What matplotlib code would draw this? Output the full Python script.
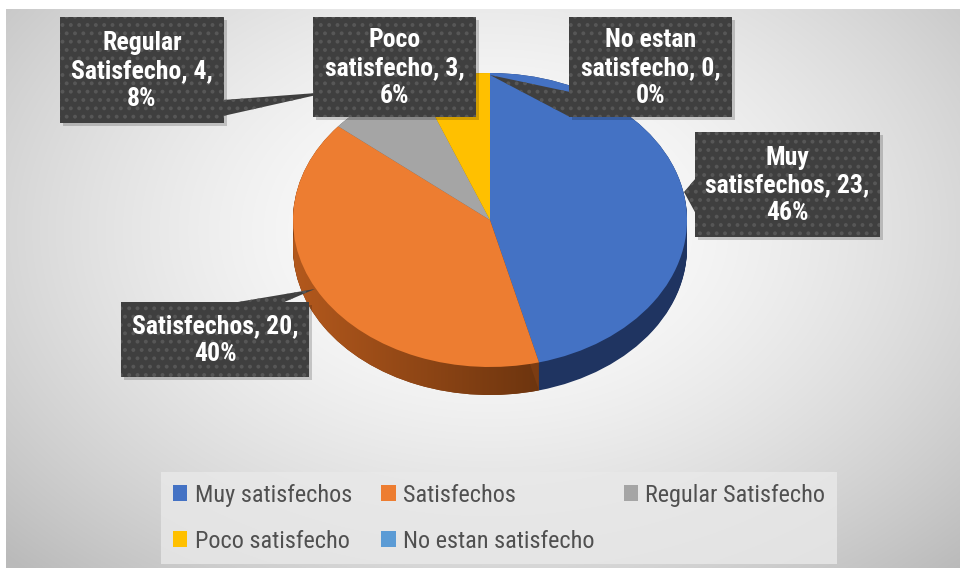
import numpy as np
import matplotlib
matplotlib.use("Agg")
import matplotlib.pyplot as plt
from matplotlib.patches import Rectangle, Polygon, Patch
from matplotlib.colors import to_rgb

# ---- data ----
categories = ["Muy satisfechos", "Satisfechos", "Regular Satisfecho",
              "Poco satisfecho", "No estan satisfecho"]
label_names = ["Muy\nsatisfechos", "Satisfechos", "Regular\nSatisfecho",
               "Poco\nsatisfecho", "No estan\nsatisfecho"]
values = [23, 20, 4, 3, 0]
top_colors = ["#4472c4", "#ed7d31", "#a5a5a5", "#ffc000", "#5b9bd5"]
side_colors = ["#1f3461", "#7c3c12", "#666666", "#9c7500", "#35608a"]

total = sum(values)
percents = [round(100 * v / total) for v in values]
labels = [f"{n}, {v},\n{p}%" for n, v, p in zip(label_names, values, percents)]

FAM = ["Roboto Condensed", "Liberation Sans Narrow", "Lato", "DejaVu Sans"]
plt.rcParams["font.family"] = FAM
plt.rcParams["hatch.color"] = "#575757"
plt.rcParams["hatch.linewidth"] = 1.6

W, H = 960, 568
fig = plt.figure(figsize=(W / 100, H / 100), dpi=100)
fig.patch.set_facecolor("white")

# ---- background gradient (chart area) ----
bg = fig.add_axes([6 / W, 0, (W - 6) / W, (H - 9) / H])
bg.set_zorder(0)
yy, xx = np.mgrid[0:H - 9, 0:W - 6]
xx = xx + 6
yy = yy + 9
t = np.sqrt(((xx - 490) / 560.0) ** 2 + ((yy - 230) / 390.0) ** 2)
g = 1.0 - 0.2 * np.clip(t, 0, 1.2) ** 1.6
img = np.dstack([g, g, g])
bg.imshow(img, aspect="auto", extent=(0, 1, 0, 1))
bg.set_xlim(0, 1)
bg.set_ylim(0, 1)
bg.axis("off")

# ---- pie (3D look) ----
cx, cy, a, b, depth = 490, 220, 197, 147, 28
L, R, T, B = 280, 700, 60, 420
ax = fig.add_axes([L / W, 1 - B / H, (R - L) / W, (B - T) / H])
ax.set_zorder(1)
d = depth / b
lowest = None
for k in np.linspace(d, 0, 36):
    w_side, _ = ax.pie(values, colors=side_colors, startangle=90,
                       counterclock=False, center=(0, -k), radius=1,
                       wedgeprops=dict(linewidth=0))
    if lowest is None:
        lowest = w_side

# shading gradient on the orange side wall (light on the left, dark on the right)
c_left = np.array(to_rgb("#b65a1d"))
c_right = np.array(to_rgb("#5a2b0b"))
gx = np.linspace(0, 1, 256)
s = np.clip((gx - 0.0) / 0.78, 0, 1)[None, :, None]
grad = c_left[None, None, :] * (1 - s) + c_right[None, None, :] * s
grad = np.repeat(grad, 4, axis=0)
im = ax.imshow(grad, extent=(-1.05, 1.05, -1.4, 0.2), aspect="auto",
               zorder=1.5, interpolation="bilinear")
im.set_clip_path(lowest[1])

wedges, _ = ax.pie(values, colors=top_colors, startangle=90, counterclock=False,
                   center=(0, 0), radius=1,
                   wedgeprops=dict(linewidth=0, zorder=3))
ax.set_aspect("auto")
ax.set_xlim(-(cx - L) / a, (R - cx) / a)
ax.set_ylim(-(B - cy) / b, (cy - T) / b)
ax.axis("off")

# ---- overlay in pixel coordinates for data-label callouts ----
ov = fig.add_axes([0, 0, 1, 1])
ov.set_zorder(2)
ov.patch.set_alpha(0)
ov.set_xlim(0, W)
ov.set_ylim(H, 0)
ov.axis("off")

boxes = [
    (695, 132, 880, 237),
    (121, 302, 309, 377),
    (60, 17, 224, 123),
    (313, 17, 476, 117),
    (569, 17, 732, 117),
]
pointers = [
    [(684, 192), (696, 178), (696, 214)],
    [(232, 303), (282, 303), (315, 289)],
    [(223, 100), (223, 116), (330, 92)],
    None,
    [(490, 75), (570, 92), (570, 117)],
]
box_fc = "#3f3f3f"
draw_order = [2, 3, 4, 0, 1]
for i in draw_order:
    x0, y0, x1, y1 = boxes[i]
    ov.add_patch(Rectangle((x0 + 3, y0 + 3), x1 - x0, y1 - y0,
                           facecolor="black", alpha=0.18, linewidth=0))
    if pointers[i] is not None:
        ov.add_patch(Polygon(pointers[i], closed=True, facecolor=box_fc,
                             linewidth=0, hatch=".."))
    ov.add_patch(Rectangle((x0, y0), x1 - x0, y1 - y0, facecolor=box_fc,
                           linewidth=0, hatch=".."))
    ov.text((x0 + x1) / 2, (y0 + y1) / 2 + 1, labels[i], color="white",
            fontsize=18.5, fontweight="bold", ha="center", va="center",
            linespacing=1.2)

# ---- legend (row-wise order like the original) ----
handles = [Patch(facecolor=c, edgecolor="none") for c in top_colors]
order = [0, 3, 1, 4, 2]
leg = fig.legend([handles[i] for i in order], [categories[i] for i in order],
                 loc="upper left", bbox_to_anchor=(161 / W, 1 - 472 / H),
                 ncol=3, fontsize=17.5, frameon=True, fancybox=False,
                 handlelength=0.6, handleheight=0.6, handletextpad=0.3,
                 labelspacing=0.95, columnspacing=1.2, borderpad=0.48,
                 borderaxespad=0)
leg.get_frame().set_facecolor("#e9e9e9")
leg.get_frame().set_edgecolor("none")
leg.get_frame().set_alpha(0.8)
for txt in leg.get_texts():
    txt.set_color("#505050")
leg.set_zorder(3)

fig.savefig("out.png", dpi=100)
